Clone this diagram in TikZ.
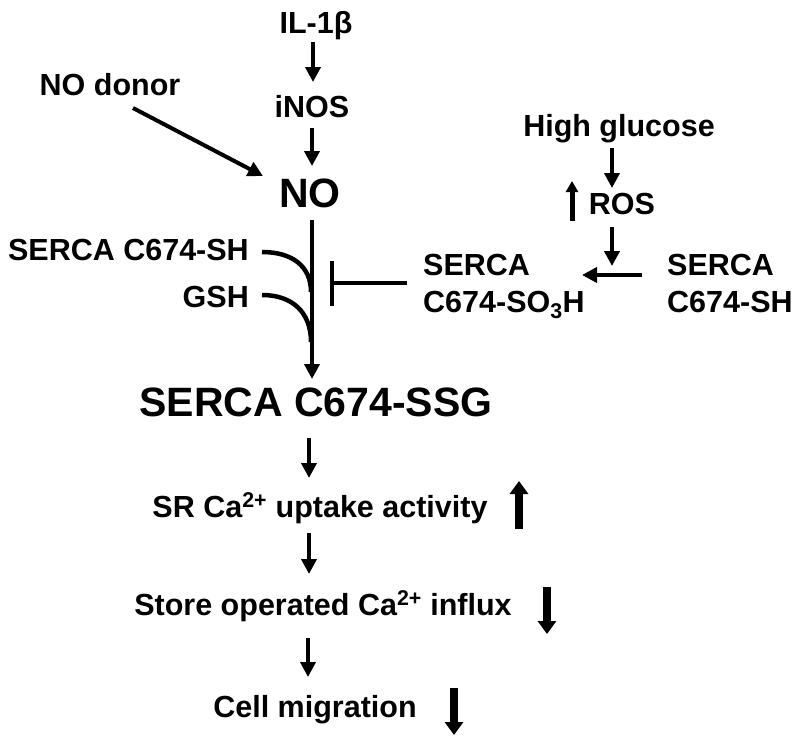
\documentclass[tikz,border=0pt]{standalone}
\usepackage{fontspec}
\setmainfont{Liberation Sans}
\usetikzlibrary{arrows.meta}
\begin{document}
\begin{tikzpicture}[x=1pt,y=-1pt,
  lbl/.style={inner sep=0pt,font=\fontsize{30.5}{36}\selectfont\bfseries},
  big/.style={inner sep=0pt,font=\fontsize{41}{48}\selectfont\bfseries},
  arr/.style={line width=4pt,-{Triangle[width=15pt,length=15pt]}},
  fat/.style={line width=8pt,-{Triangle[width=18pt,length=13pt]}},
  ln/.style={line width=4.5pt}]
\useasboundingbox (0,0) rectangle (800,745);
% nodes
\node[lbl,anchor=base] (il) at (316,33) {IL-1β};
\node[lbl,anchor=base] (inos) at (312,117) {iNOS};
\node[big,anchor=base] (no) at (310,207) {NO};
\node[lbl,anchor=base] (donor) at (110,95) {NO donor};
\node[lbl,anchor=base east] (sh) at (249,260) {SERCA C674-SH};
\node[lbl,anchor=base east] (gsh) at (249,307) {GSH};
\node[lbl,anchor=base] (hg) at (619,136) {High glucose};
\node[lbl,anchor=base] (ros) at (622,214) {ROS};
\node[lbl,anchor=base west] (so1) at (423,275) {SERCA};
\node[lbl,anchor=base west] (so2) at (423,312) {C674-SO\textsubscript{3}H};
\node[lbl,anchor=base west] (rs1) at (667,275) {SERCA};
\node[lbl,anchor=base west] (rs2) at (667,312) {C674-SH};
\node[big,anchor=base] (ssg) at (316,416) {SERCA C674-SSG};
\node[lbl,anchor=base] (sr) at (320,517) {SR Ca\textsuperscript{2+} uptake activity};
\node[lbl,anchor=base] (soc) at (323,615) {Store operated Ca\textsuperscript{2+} influx};
\node[lbl,anchor=base] (cm) at (315,717) {Cell migration};
% coordinates
\coordinate (a1s) at (313,42); \coordinate (a1e) at (313,82);
\coordinate (a2s) at (312,128); \coordinate (a2e) at (312,166);
\coordinate (d1) at (133,108); \coordinate (d2) at (263,176);
\coordinate (vs) at (312,220); \coordinate (ve) at (312,379);
\coordinate (c1) at (262,252); \coordinate (c2) at (262,295);
\coordinate (ib1) at (332,261); \coordinate (ib2) at (332,306);
\coordinate (ih1) at (332,283); \coordinate (ih2) at (407,283);
\coordinate (g1) at (612,148); \coordinate (g2) at (612,188);
\coordinate (r1) at (612,227); \coordinate (r2) at (612,266);
\coordinate (h1) at (642,275); \coordinate (h2) at (582,275);
\coordinate (u1) at (572,221); \coordinate (u2) at (572,181);
\coordinate (b1s) at (309,438); \coordinate (b1e) at (309,478);
\coordinate (b2s) at (309,533); \coordinate (b2e) at (309,574);
\coordinate (b3s) at (308,638); \coordinate (b3e) at (308,677);
\coordinate (t1s) at (519,529); \coordinate (t1e) at (519,481);
\coordinate (t2s) at (547,587); \coordinate (t2e) at (547,634);
\coordinate (t3s) at (454,688); \coordinate (t3e) at (454,735);
% connectors
\draw[arr] (a1s) -- (a1e);
\draw[arr] (a2s) -- (a2e);
\draw[arr] (d1) -- (d2);
\draw[arr] (vs) -- (ve);
\draw[ln] (c1) .. controls (292,252) and (311,266) .. (311,292);
\draw[ln] (c2) .. controls (292,295) and (311,312) .. (311,342);
\draw[ln] (ib1) -- (ib2);
\draw[ln] (ih1) -- (ih2);
\draw[arr] (g1) -- (g2);
\draw[arr] (r1) -- (r2);
\draw[arr] (h1) -- (h2);
\draw[line width=5pt,-{Triangle[width=12pt,length=11pt]}] (u1) -- (u2);
\draw[arr] (b1s) -- (b1e);
\draw[arr] (b2s) -- (b2e);
\draw[arr] (b3s) -- (b3e);
\draw[fat] (t1s) -- (t1e);
\draw[fat] (t2s) -- (t2e);
\draw[fat] (t3s) -- (t3e);
\end{tikzpicture}
\end{document}
